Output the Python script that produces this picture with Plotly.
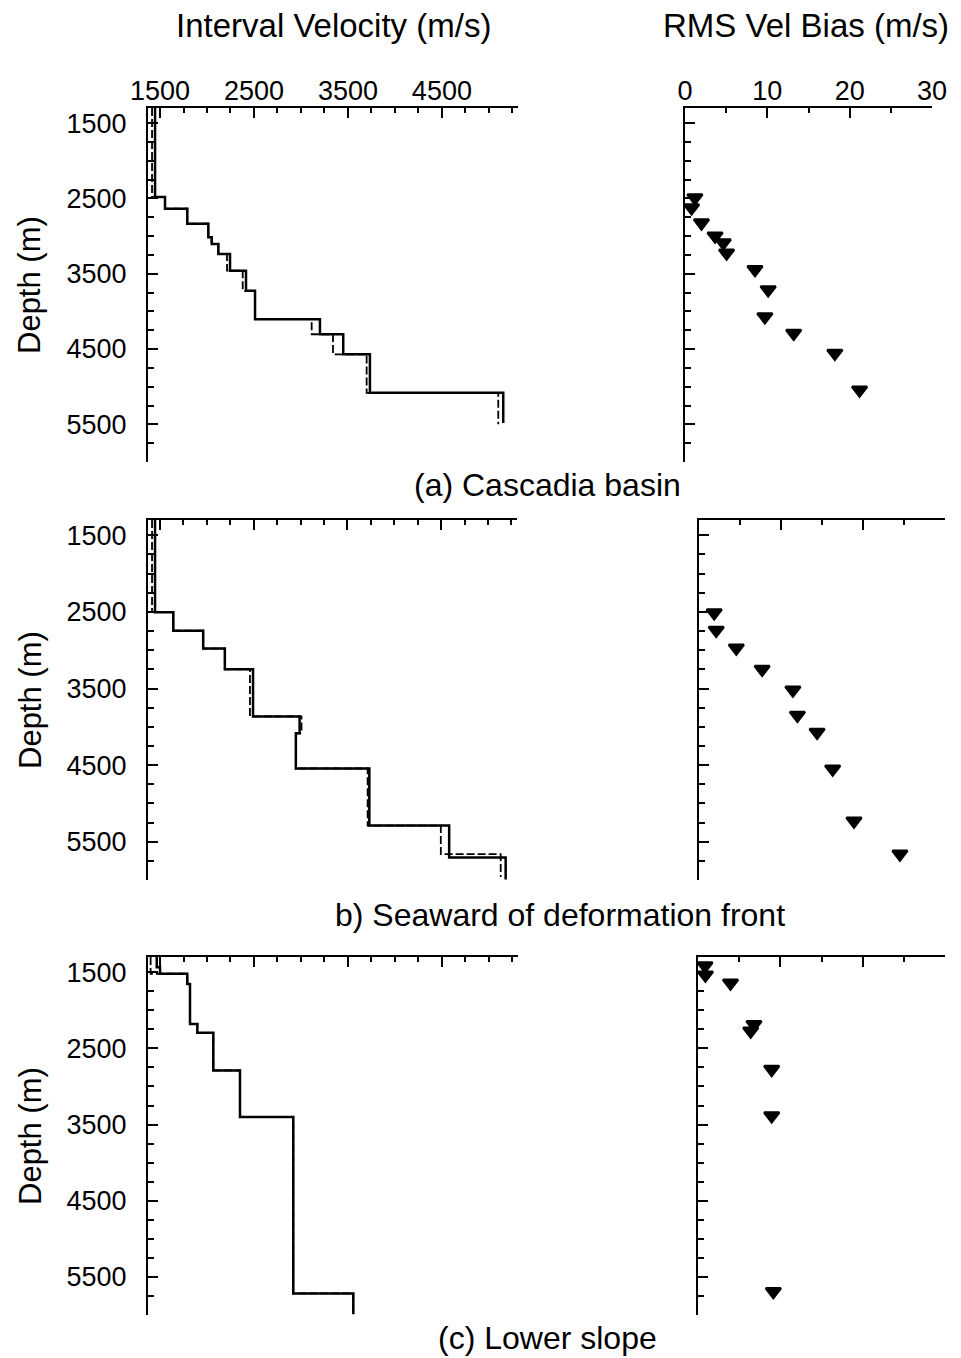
import plotly.graph_objects as go

# page body margin of the browser (~8 px) is compensated by a slightly smaller figure
OFF = 8
W, H = 961 - OFF, 1358 - OFF

# ---------------- data ----------------
# (a) Cascadia basin : interval velocity step profiles (layer tops, velocities)
a_sol_top = [1300, 2482, 2637, 2837, 3015, 3104, 3237, 3460, 3727, 4104, 4304, 4571, 5082]
a_sol_vel = [1447, 1553, 1790, 2014, 2050, 2121, 2245, 2415, 2511, 3202, 3450, 3734, 5153]
a_sol_end = 5482
a_dsh_top = [1300, 2482, 2637, 2837, 3015, 3104, 3237, 3460, 3727, 4104, 4304, 4571, 5082]
a_dsh_vel = [1415, 1553, 1790, 2014, 2050, 2121, 2213, 2380, 2511, 3114, 3341, 3699, 5100]
a_dsh_end = 5500
a_bias = [1.2, 0.8, 2.0, 3.65, 4.65, 5.05, 8.5, 10.1, 9.7, 13.2, 18.2, 21.2]
a_bias_depth = [2490, 2625, 2825, 3000, 3090, 3225, 3445, 3712, 4070, 4290, 4557, 5045]

# (b) Seaward of deformation front
b_sol_top = [1300, 2504, 2746, 2978, 3250, 3865, 4084, 4544, 5290, 5707]
b_sol_vel = [1447, 1642, 1961, 2192, 2493, 2990, 2950, 3734, 4586, 5189]
b_sol_end = 5992
b_dsh_top = [1300, 2504, 2746, 2978, 3250, 3865, 4084, 4544, 5290, 5663]
b_dsh_vel = [1415, 1642, 1961, 2192, 2460, 3010, 2950, 3716, 4497, 5136]
b_dsh_end = 5960
b_bias = [1.85, 2.1, 4.55, 7.7, 11.45, 12.0, 14.4, 16.3, 18.9, 24.5]
b_bias_depth = [2510, 2740, 2972, 3248, 3520, 3850, 4070, 4550, 5230, 5660]

# (c) Lower slope
c_sol_top = [1300, 1434, 1520, 1653, 2178, 2296, 2789, 3401, 5717]
c_sol_vel = [1465, 1500, 1790, 1819, 1897, 2067, 2351, 2918, 3557]
c_sol_end = 5990
c_dsh_top = [1300, 1520, 1653, 2178, 2296, 2789, 3401, 5717]
c_dsh_vel = [1400, 1790, 1819, 1897, 2067, 2351, 2918, 3557]
c_dsh_end = 6000
c_bias = [0.85, 0.9, 3.95, 6.8, 6.4, 8.95, 8.95, 9.15]
c_bias_depth = [1415, 1535, 1640, 2185, 2270, 2775, 3385, 5690]

vel_ticks = [1500, 2500, 3500, 4500]
bias_ticks = [0, 10, 20, 30]
depth_ticks = [1500, 2500, 3500, 4500, 5500]

captions = ["(a) Cascadia basin", "b) Seaward of deformation front", "(c) Lower slope"]
caption_pos = [(547, 485), (560, 915), (547, 1338)]

# ---------------- layout geometry (pixels in the 961x1358 window) ----------------
panels = [
    dict(left=(148, 518), right=(685, 932), y=(108, 462)),
    dict(left=(148, 517), right=(699, 945), y=(520, 880)),
    dict(left=(148, 518), right=(698, 945), y=(957, 1315)),
]

FONT = "Arial, Liberation Sans, Helvetica, sans-serif"

def xd(a, b):
    return [(a - OFF) / W, (b - OFF) / W]

def yd(top, bot):
    return [1 - (bot - OFF) / H, 1 - (top - OFF) / H]

fig = go.Figure()

profiles = [
    (a_sol_top, a_sol_vel, a_sol_end, a_dsh_top, a_dsh_vel, a_dsh_end, a_bias, a_bias_depth),
    (b_sol_top, b_sol_vel, b_sol_end, b_dsh_top, b_dsh_vel, b_dsh_end, b_bias, b_bias_depth),
    (c_sol_top, c_sol_vel, c_sol_end, c_dsh_top, c_dsh_vel, c_dsh_end, c_bias, c_bias_depth),
]

layout = dict(
    width=W, height=H, margin=dict(l=0, r=0, t=0, b=0, autoexpand=False), autosize=False,
    plot_bgcolor="white", paper_bgcolor="white", showlegend=False,
    font=dict(family=FONT, color="black", size=27),
)

common_axis = dict(showline=True, linewidth=2, linecolor="black", showgrid=False,
                   zeroline=False, ticks="inside", tickwidth=2, tickcolor="black",
                   mirror=False, automargin=False,
                   tickfont=dict(size=27, family=FONT, color="black"))

for i, (p, prof) in enumerate(zip(panels, profiles)):
    st, sv, se, dt, dv, de, bias, bd = prof
    nl = 2 * i + 1
    nr = 2 * i + 2
    sl = "" if nl == 1 else str(nl)
    sr = str(nr)

    # step profiles
    fig.add_trace(go.Scatter(x=dv + [dv[-1]], y=dt + [de], mode="lines", line_shape="vh",
                             line=dict(color="black", width=1.8, dash="8px,3px"),
                             xaxis="x" + sl, yaxis="y" + sl, hoverinfo="skip"))
    fig.add_trace(go.Scatter(x=sv + [sv[-1]], y=st + [se], mode="lines", line_shape="vh",
                             line=dict(color="black", width=2.5),
                             xaxis="x" + sl, yaxis="y" + sl, hoverinfo="skip"))
    # bias markers
    fig.add_trace(go.Scatter(x=bias, y=bd, mode="markers", cliponaxis=False,
                             marker=dict(symbol="triangle-down", size=13, color="black",
                                         line=dict(color="black", width=2.5)),
                             xaxis="x" + sr, yaxis="y" + sr))

    show_x = (i == 0)
    layout["xaxis" + sl] = dict(common_axis, domain=xd(*p["left"]), range=[1372, 5310],
                                side="top", anchor="y" + sl, tickvals=vel_ticks, ticklen=10,
                                showticklabels=show_x, ticklabelstandoff=-5,
                                minor=dict(dtick=250, tick0=1500, ticks="inside", ticklen=5,
                                           tickwidth=1.5, tickcolor="black", showgrid=False))
    layout["yaxis" + sl] = dict(common_axis, domain=yd(*p["y"]), range=[6000, 1300],
                                anchor="x" + sl, tickvals=depth_ticks, ticklen=10,
                                showticklabels=True, ticklabelstandoff=14,
                                minor=dict(dtick=250, tick0=1500, ticks="inside", ticklen=6,
                                           tickwidth=1.5, tickcolor="black", showgrid=False))
    layout["xaxis" + sr] = dict(common_axis, domain=xd(*p["right"]), range=[0, 30],
                                side="top", anchor="y" + sr, tickvals=bias_ticks, ticklen=10,
                                showticklabels=show_x, ticklabelstandoff=-5,
                                minor=dict(dtick=5, tick0=0, ticks="inside", ticklen=5,
                                           tickwidth=1.5, tickcolor="black", showgrid=False))
    layout["yaxis" + sr] = dict(common_axis, domain=yd(*p["y"]), range=[6000, 1300],
                                anchor="x" + sr, tickvals=depth_ticks, ticklen=10,
                                showticklabels=False,
                                minor=dict(dtick=250, tick0=1500, ticks="inside", ticklen=6,
                                           tickwidth=1.5, tickcolor="black", showgrid=False))

annotations = []

def ann(text, px, py, size=32, angle=0):
    annotations.append(dict(text=text, x=(px - OFF) / W, y=1 - (py - OFF) / H,
                            xref="paper", yref="paper",
                            showarrow=False, xanchor="center", yanchor="middle",
                            textangle=angle, font=dict(size=size, family=FONT, color="black")))

ann("Interval Velocity (m/s)", 333, 25, size=33)
ann("RMS Vel Bias (m/s)", 806, 25, size=33)
for p in panels:
    ann("Depth (m)", 30, (p["y"][0] + p["y"][1]) / 2, size=31, angle=-90)
for text, (cx, cy) in zip(captions, caption_pos):
    ann(text, cx, cy, size=32)

layout["annotations"] = annotations
fig.update_layout(**layout)

fig.write_html("out.html")
